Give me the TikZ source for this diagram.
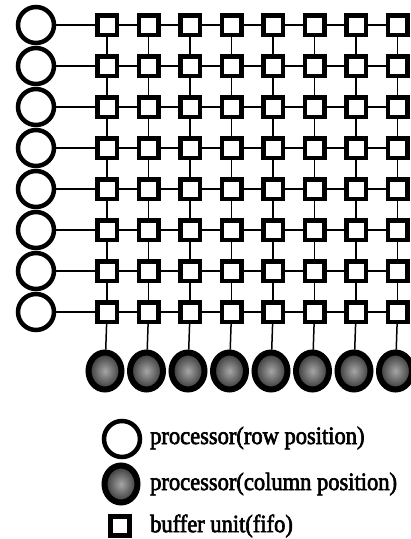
\documentclass[tikz,border=0pt]{standalone}
\usepackage{fontspec}
\usetikzlibrary{shapes.geometric}
\setmainfont{Liberation Serif}
\newfontfamily\legendfont{Liberation Serif}[FakeBold=2.5,FakeStretch=0.9]
\tikzset{
  rowproc/.style={circle,draw,line width=4.5pt,minimum size=36pt,inner sep=0pt,fill=white},
  colproc/.style={ellipse,draw,line width=6pt,minimum width=33pt,minimum height=37pt,inner sep=0pt,
                  inner color=black!35,outer color=black!80},
  fifo/.style={rectangle,draw,line width=4.5pt,minimum size=19.5pt,inner sep=0pt,fill=white},
  hlink/.style={line width=2pt},
  vlink/.style={line width=1.5pt},
  caption/.style={anchor=west,inner sep=0pt,font=\legendfont\fontsize{25}{28}\selectfont}
}
\begin{document}
\begin{tikzpicture}[x=1pt,y=-1pt]
  \useasboundingbox (0,0) rectangle (411,539);
  % row processors on the left
  \foreach \r in {1,...,8} {
    \node[rowproc] (r\r) at (36,{25+41.0*(\r-1)}) {};
  }
  % grid of buffer units
  \foreach \r in {1,...,8} {
    \foreach \c in {1,...,8} {
      \node[fifo] (b-\r-\c) at ({107+41.5*(\c-1)},{25+41.0*(\r-1)}) {};
    }
  }
  % column processors at the bottom
  \foreach \c in {1,...,8} {
    \node[colproc] (c\c) at ({105+41.5*(\c-1)},371) {};
  }
  % horizontal links along each row
  \foreach \r in {1,...,8} {
    \draw[line width=2.5pt] (r\r) -- (b-\r-1);
    \foreach \c [evaluate=\c as \n using int(\c+1)] in {1,...,7} {
      \draw[hlink] (b-\r-\c) -- (b-\r-\n);
    }
  }
  % vertical links along each column
  \foreach \c in {1,...,8} {
    \foreach \r [evaluate=\r as \n using int(\r+1)] in {1,...,7} {
      \draw[vlink] (b-\r-\c) -- (b-\n-\c);
    }
    \draw[vlink] (b-8-\c) -- (c\c);
  }
  % legend
  \node[rowproc] (lrow) at (122,439) {};
  \node[colproc] (lcol) at (121,484) {};
  \node[fifo,minimum size=19pt] (lbuf) at (120,526) {};
  \node[caption] (trow) at (150,438) {processor(row position)};
  \node[caption] (tcol) at (150,484) {processor(column position)};
  \node[caption] (tbuf) at (150,526) {buffer unit(fifo)};
\end{tikzpicture}
\end{document}
